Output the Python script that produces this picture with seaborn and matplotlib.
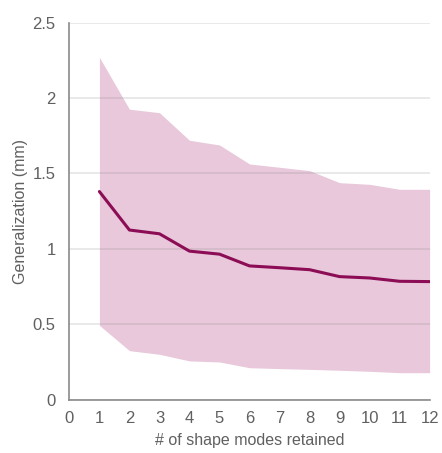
import numpy as np
import pandas as pd
import matplotlib
matplotlib.use('Agg')
import matplotlib.pyplot as plt
import seaborn as sns

# values
modes = [1, 2, 3, 4, 5, 6, 7, 8, 9, 10, 11, 12]
mean_err = [1.38, 1.125, 1.10, 0.985, 0.965, 0.887, 0.875, 0.862, 0.816, 0.807, 0.785, 0.783]
upper_err = [2.27, 1.926, 1.903, 1.72, 1.689, 1.563, 1.541, 1.519, 1.439, 1.428, 1.395, 1.395]
lower_err = [0.493, 0.325, 0.301, 0.257, 0.25, 0.212, 0.206, 0.201, 0.195, 0.188, 0.179, 0.179]

x_ticks = list(range(0, 13))
y_ticks = [0, 0.5, 1, 1.5, 2, 2.5]
y_ticklabels = ["0", "0.5", "1", "1.5", "2", "2.5"]


def main():
    sns.set_theme(style="white")
    plt.rcParams['font.family'] = ['Liberation Sans', 'DejaVu Sans']

    df = pd.DataFrame({"modes": modes, "mean": mean_err,
                       "upper": upper_err, "lower": lower_err})

    fig = plt.figure(figsize=(4.42, 4.53), dpi=100)
    ax = fig.add_axes([0.157, 0.1177, 0.815, 0.8323])

    ax.fill_between(df["modes"], df["lower"], df["upper"],
                    color="#e8c8da", linewidth=0, zorder=1)
    sns.lineplot(data=df, x="modes", y="mean", ax=ax,
                 color="#8c0d55", linewidth=2.2, zorder=3)

    ax.set_xlim(0, 12)
    ax.set_ylim(0, 2.5)
    ax.set_xticks(x_ticks)
    ax.set_yticks(y_ticks)
    ax.set_yticklabels(y_ticklabels)

    ax.set_axisbelow(False)
    ax.yaxis.grid(True, color="#8a8a8a", alpha=0.22, linewidth=1.2, zorder=2)
    ax.xaxis.grid(False)

    for s in ["top", "right"]:
        ax.spines[s].set_visible(False)
    for s in ["left", "bottom"]:
        ax.spines[s].set_color("#8a8a8a")
        ax.spines[s].set_linewidth(1.2)

    ax.tick_params(axis="both", length=0, labelsize=12, labelcolor="#606060")
    ax.tick_params(axis="y", pad=10)
    ax.tick_params(axis="x", pad=8)

    ax.set_xlabel("# of shape modes retained", fontsize=11.5, color="#606060", labelpad=5)
    ax.set_ylabel("Generalization (mm)", fontsize=11.5, color="#606060", labelpad=3)

    plt.savefig("out.png", dpi=100)


if __name__ == "__main__":
    main()
